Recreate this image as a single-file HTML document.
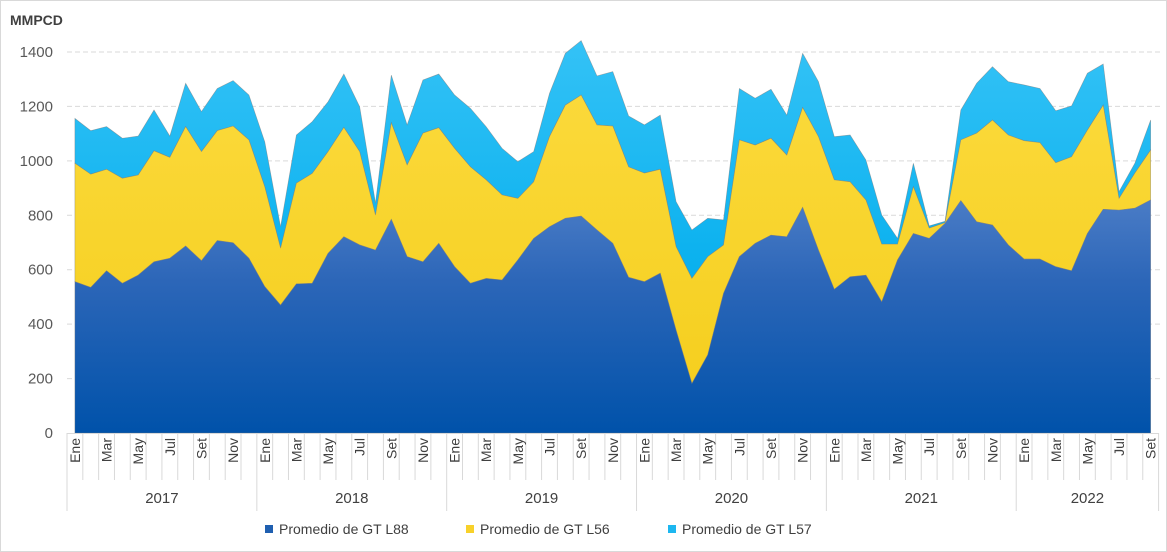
<!DOCTYPE html>
<html><head><meta charset="utf-8"><style>
body{margin:0;background:#fff;}
svg{display:block;font-family:"Liberation Sans",sans-serif;}
</style></head><body>
<svg id="chart" width="1167" height="552">
<defs>
<linearGradient id="gB" x1="0" y1="0" x2="0" y2="1"><stop offset="0" stop-color="#4a7cc6"/><stop offset="0.35" stop-color="#2c66b8"/><stop offset="1" stop-color="#0052aa"/></linearGradient>
<linearGradient id="gY" x1="0" y1="0" x2="0" y2="1"><stop offset="0" stop-color="#fbd93a"/><stop offset="1" stop-color="#f5cf1f"/></linearGradient>
<linearGradient id="gC" x1="0" y1="0" x2="0" y2="1"><stop offset="0" stop-color="#34c2f6"/><stop offset="1" stop-color="#08b0ee"/></linearGradient>
</defs>
<rect x="0.5" y="0.5" width="1166" height="551" fill="#fff" stroke="#d9d9d9"/>
<text x="10" y="25" font-size="14" font-weight="bold" fill="#404040">MMPCD</text>
<g id="grid"></g><g id="areas"></g><g id="axes"></g>
<g>
<g><rect x="265" y="525" width="8" height="8" fill="#1f5fb0"/><text x="279" y="534" font-size="14" fill="#404040">Promedio de GT L88</text></g>
<g><rect x="466" y="525" width="8" height="8" fill="#f8d12a"/><text x="480" y="534" font-size="14" fill="#404040">Promedio de GT L56</text></g>
<g><rect x="668" y="525" width="8" height="8" fill="#1db7f0"/><text x="682" y="534" font-size="14" fill="#404040">Promedio de GT L57</text></g>
</g>
</svg>
<script>
const years=["2017","2018","2019","2020","2021","2022"];
const months=["Ene","Feb","Mar","Abr","May","Jun","Jul","Ago","Set","Oct","Nov","Dic"];
const yTicks=[0,200,400,600,800,1000,1200,1400];
const l88=[556,535,596,550,580,629,642,687,633,707,699,642,538,470,548,550,660,721,691,672,785,648,629,697,611,550,568,562,636,715,758,789,797,746,697,572,556,587,378,182,287,513,648,697,727,721,829,672,528,574,580,482,636,733,715,770,854,776,764,691,639,639,611,596,733,822,819,826,856];
const l56=[435,416,373,386,368,408,371,439,401,404,429,435,367,209,370,404,374,402,343,129,355,337,473,425,435,428,362,313,226,208,331,416,445,386,431,406,399,382,307,386,361,178,429,361,356,300,367,417,402,349,276,212,58,172,38,3,223,326,386,404,435,428,382,419,380,383,43,129,184];
const l57=[165,160,157,147,143,150,78,159,147,155,167,165,165,79,177,190,183,196,165,44,175,147,195,197,196,215,195,171,135,111,159,190,200,180,200,187,177,199,165,178,141,92,189,172,180,147,199,202,159,172,147,107,21,86,8,5,110,183,196,196,205,199,191,187,209,151,25,36,110];
const NS="http://www.w3.org/2000/svg";
const N=l88.length, left=67, catW=15.82, y0=433, y1=52, vmax=1400;
const xs=i=>left+catW*(i+0.5);
const ys=v=>y0-(v/vmax)*(y0-y1);
function mk(tag,attrs,parent){const e=document.createElementNS(NS,tag);for(const k in attrs)e.setAttribute(k,attrs[k]);parent.appendChild(e);return e;}
const grid=document.getElementById('grid'),areas=document.getElementById('areas'),axes=document.getElementById('axes');
yTicks.forEach(t=>{
  if(t>0){const g=mk('line',{x1:left,x2:1160,y1:ys(t),y2:ys(t),stroke:'#d9d9d9','stroke-dasharray':'5,3'},grid);
  
  }
  const tx=mk('text',{x:53,y:ys(t)+5,'text-anchor':'end','font-size':'15',fill:'#595959'},axes);tx.textContent=t;
  
  
});
const c1=l88.slice(), c2=l88.map((v,i)=>v+l56[i]), c3=c2.map((v,i)=>v+l57[i]);
function area(top,bot,fill,name){
  let d='M'+xs(0)+','+ys(top[0]);
  for(let i=1;i<N;i++)d+='L'+xs(i)+','+ys(top[i]);
  for(let i=N-1;i>=0;i--)d+='L'+xs(i)+','+ys(bot?bot[i]:0);
  d+='Z';
  const p=mk('path',{d:d,fill:fill,stroke:'#7a7a7a','stroke-width':'0.6','stroke-opacity':'0.6'},areas);
  
  
}
area(c3,c2,'url(#gC)','area-l57');
area(c2,c1,'url(#gY)','area-l56');
area(c1,null,'url(#gB)','area-l88');
mk('line',{x1:left,x2:left+catW*N,y1:y0+0.5,y2:y0+0.5,stroke:'#d9d9d9'},axes);
for(let i=0;i<=N;i++){
  const x=left+catW*i, yr=(i%12===0||i===N);
  mk('line',{x1:x,x2:x,y1:y0,y2:yr?511:480,stroke:'#d9d9d9'},axes);
}
for(let i=0;i<N;i+=2){
  const m=months[i%12], x=xs(i);
  const t=mk('text',{x:0,y:0,'font-size':'14',fill:'#404040','text-anchor':'end',transform:'translate('+(x+5)+',438) rotate(-90)'},axes);
  t.textContent=m;
  
  
}
years.forEach((yv,k)=>{
  const s=k*12, e=Math.min(N,s+12);
  const t=mk('text',{x:left+catW*(s+e)/2,y:503,'text-anchor':'middle','font-size':'15',fill:'#404040'},axes);
  t.textContent=yv;
  
  
});
</script>
</body></html>
